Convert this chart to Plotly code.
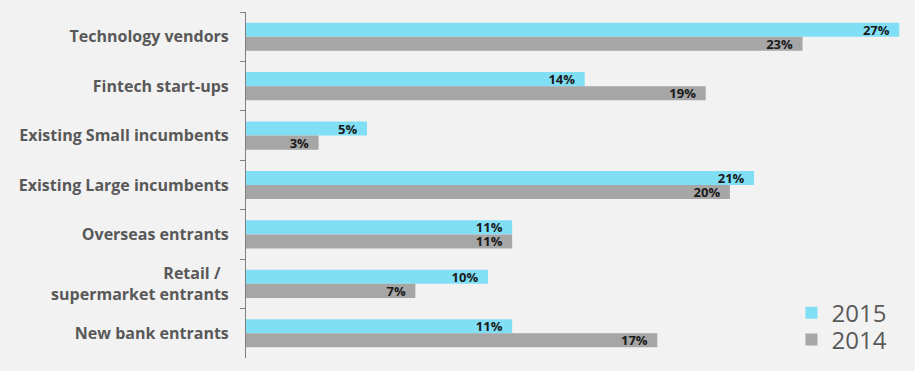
import plotly.graph_objects as go

categories = ["Technology vendors", "Fintech start-ups", "Existing Small incumbents",
              "Existing Large incumbents", "Overseas entrants", "Retail /&nbsp;&nbsp;<br>supermarket entrants",
              "New bank entrants"]
values_2015 = [27, 14, 5, 21, 11, 10, 11]
values_2014 = [23, 19, 3, 20, 11, 7, 17]
series_names = ["2015", "2014"]

fig = go.Figure()
for name, vals, color, leg in [(series_names[0], values_2015, "#80dff5", "legend"),
                               (series_names[1], values_2014, "#a6a6a6", "legend2")]:
    fig.add_trace(go.Bar(
        y=categories, x=vals, name=name, orientation="h", legend=leg,
        marker=dict(color=color, line=dict(width=0)),
        text=[f"{v}%&nbsp;&nbsp;" for v in vals], textposition="inside", insidetextanchor="end",
        constraintext="none",
        textfont=dict(family="Open Sans", size=13, color="#1a1a1a", weight="bold"),
    ))

legend_common = dict(xref="container", yref="container", xanchor="left", yanchor="middle",
                     font=dict(family="Open Sans", size=24, color="#595959"),
                     bgcolor="rgba(0,0,0,0)", itemsizing="constant", itemwidth=30)

fig.update_layout(
    width=915, height=371,
    margin=dict(l=246, r=0, t=12, b=13, autoexpand=False),
    paper_bgcolor="#f2f2f2", plot_bgcolor="#f2f2f2",
    barmode="group", bargap=0.43, bargroupgap=0,
    showlegend=True,
    legend=dict(x=0.865, y=0.156, **legend_common),
    legend2=dict(x=0.865, y=0.084, **legend_common),
    xaxis=dict(range=[0, 27.65], showgrid=False, zeroline=False, showticklabels=False,
               showline=False, ticks=""),
    yaxis=dict(autorange="reversed", showgrid=False, zeroline=False, automargin=False,
               showline=True, linecolor="#7f7f7f", linewidth=1,
               ticks="outside", tickson="boundaries", ticklen=5, tickcolor="#7f7f7f",
               tickfont=dict(family="Open Sans", size=16, color="#595959", weight="bold"),
               ticklabelstandoff=13),
)

fig.write_html("out.html", config={"displayModeBar": False},
               post_script="document.body.style.margin='0';document.body.style.background='#f2f2f2';document.body.style.overflow='hidden';")
